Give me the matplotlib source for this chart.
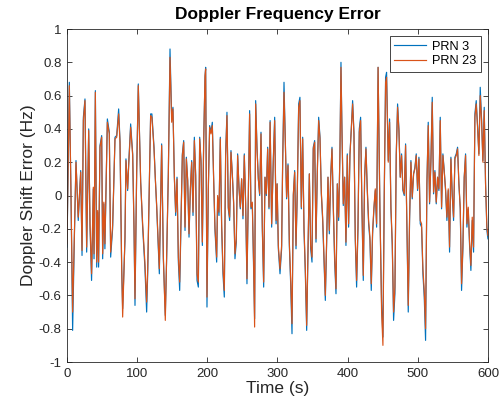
"""Doppler frequency error of two PRNs over a 600 s run."""

import matplotlib
matplotlib.use("Agg")
import matplotlib.pyplot as plt
from matplotlib.ticker import FuncFormatter, MultipleLocator

# --- data (time in s, error in Hz) ------------------------------------------
time_s = [
    0, 3.3, 5.5, 8, 10.5, 12.8, 16, 19.5, 21.4, 23.3,
    25.6, 28, 30.9, 32.8, 35, 37.5, 38.5, 40.4, 42.3, 43.7,
    45, 47, 49.4, 50.8, 52.5, 54, 57.5, 60.3, 62.2, 65,
    68.4, 70.8, 73.6, 75.5, 77.9, 79.3, 82.6, 84, 86.4, 87.9,
    90.7, 93.6, 95.5, 96.9, 99.3, 101.6, 103, 105, 107.8, 111,
    113.5, 115, 117.3, 119.2, 121, 124, 125.9, 127.8, 130, 131.6,
    134.9, 137.3, 140.1, 142, 144.4, 146.8, 149.2, 151, 153, 154.9,
    156.8, 158.7, 160.6, 162.5, 164.4, 166.3, 168.2, 170.1, 172, 173.9,
    175.8, 177.7, 179.6, 181.5, 183.4, 185.3, 187.2, 189.1, 191, 192.9,
    194.8, 196.7, 197.6, 199.5, 201.4, 203.3, 205.2, 207.1, 209, 210.9,
    213.3, 214.7, 216.6, 218.5, 220.4, 222.3, 224.2, 226.1, 228, 229.9,
    231.8, 233.7, 235.6, 237.5, 239.4, 241.3, 243.2, 245.1, 247, 248.9,
    250.8, 252.7, 254.6, 256.5, 258.4, 260.3, 262.2, 264.1, 266, 267.4,
    268.9, 270.8, 272.7, 274.6, 276.5, 278.4, 280.3, 282.2, 284.1, 286,
    287.9, 289.5, 291.7, 294, 296, 298, 299.5, 301.2, 303.6, 305.9,
    307.4, 309.3, 311.2, 313, 315, 316.9, 318.8, 320.7, 322.6, 324.5,
    326.4, 328.3, 330.2, 332, 334, 335.9, 337.8, 339.7, 341.6, 343.5,
    345.4, 347.3, 349.2, 351, 353, 354.9, 356.8, 358.7, 360.6, 362.5,
    364.4, 366.3, 368.2, 370, 372, 373.9, 375.8, 377.7, 379.6, 381.5,
    383.4, 385.3, 387.2, 389, 390.5, 391.9, 393.8, 395.7, 397.6, 399.5,
    401.4, 403.3, 405.2, 407.1, 409, 410.9, 412.8, 414.7, 416.6, 418.5,
    420.4, 422.3, 424.2, 426.1, 428, 429.9, 431.8, 433.7, 435.6, 437.5,
    439.4, 441.3, 443.4, 446, 448.4, 450.3, 452.2, 454.1, 455.5, 457.9,
    459.8, 461.7, 463.6, 465.5, 467.4, 469.3, 471.2, 473.1, 475, 476.9,
    478.8, 480.7, 482.6, 484.5, 486.4, 488.3, 490.2, 492.1, 494, 495.9,
    497.8, 499.7, 501.6, 503.5, 505.4, 507.3, 509.2, 511.1, 513, 514.9,
    516.8, 518.7, 520.6, 522.5, 524.4, 526.3, 528.2, 530.1, 532, 533.9,
    535.8, 537.7, 539.6, 541.5, 543.4, 545.3, 547.2, 549.1, 551, 552.9,
    554.8, 556.7, 558.6, 560.5, 562.4, 564.3, 566.2, 568.1, 570, 571.9,
    573.8, 575.7, 577.6, 579.5, 581.4, 583.3, 585.2, 587.1, 589, 590.9,
    592.8, 594.7, 596.6, 598.5, 600,
]

prn3 = [
    -0.31, 0.68, 0.05, -0.81, -0.25, 0.21, -0.15, 0.15, -0.36, 0.47,
    0.58, -0.34, 0.40, -0.19, -0.51, 0.04, -0.38, 0.63, -0.43, -0.10,
    -0.43, 0.30, 0.36, -0.38, -0.05, -0.32, 0.46, 0.38, -0.37, -0.20,
    0.35, 0.36, 0.52, 0.33, -0.44, -0.68, -0.27, 0.22, 0.03, 0.19,
    0.43, 0.25, -0.21, -0.66, 0.15, 0.67, 0.42, 0.08, -0.19, -0.43,
    -0.70, -0.47, 0.05, 0.49, 0.49, 0.29, 0.10, -0.07, -0.30, -0.47,
    0.31, -0.38, -0.72, -0.38, 0.13, 0.88, 0.46, 0.53, 0.11, -0.12,
    0.11, -0.40, -0.57, -0.15, 0.25, 0.33, -0.21, 0.23, 0.09, -0.25,
    0.03, 0.21, -0.12, 0.35, 0.12, -0.51, -0.55, 0.35, 0.21, -0.30,
    0.33, 0.71, 0.77, -0.67, 0.03, 0.42, 0.38, 0.44, 0.10, -0.21,
    -0.40, -0.01, -0.12, 0.35, -0.19, -0.47, -0.61, 0.25, 0.50, -0.08,
    -0.15, 0.27, 0.13, -0.05, -0.38, -0.28, 0.25, 0.05, -0.08, 0.10,
    -0.14, 0.25, -0.05, -0.53, 0.00, 0.51, -0.08, -0.05, -0.43, -0.74,
    0.57, 0.29, 0.10, 0.00, 0.38, -0.21, -0.55, 0.11, 0.00, 0.29,
    -0.08, 0.45, -0.19, 0.21, 0.47, -0.17, 0.07, -0.32, -0.47, -0.32,
    0.21, 0.68, 0.33, -0.02, 0.19, -0.30, -0.53, -0.83, 0.00, 0.15,
    -0.32, 0.03, 0.55, 0.59, -0.08, 0.35, -0.21, -0.47, -0.81, -0.34,
    0.13, -0.32, -0.40, 0.29, 0.33, -0.28, 0.15, 0.47, 0.35, 0.01,
    -0.15, -0.40, -0.63, -0.30, 0.11, -0.23, 0.11, 0.29, -0.08, -0.40,
    -0.59, 0.07, -0.15, 0.25, 0.80, 0.40, -0.06, 0.11, -0.30, 0.25,
    -0.19, 0.25, 0.40, 0.57, 0.38, -0.27, -0.55, -0.21, 0.40, 0.47,
    -0.08, -0.51, 0.11, 0.29, 0.03, -0.17, -0.27, -0.57, -0.23, -0.08,
    0.03, -0.19, 0.77, -0.08, -0.65, -0.85, 0.00, 0.71, 0.74, 0.21,
    0.46, -0.08, -0.30, -0.75, -0.59, 0.25, 0.55, 0.40, 0.11, 0.25,
    0.03, 0.00, 0.31, -0.19, -0.70, -0.15, 0.21, -0.02, 0.13, 0.17,
    0.25, 0.03, 0.23, -0.17, -0.19, -0.47, -0.61, -0.87, 0.07, 0.44,
    -0.05, 0.21, 0.59, 0.01, 0.15, -0.05, 0.11, 0.03, 0.47, -0.08,
    0.25, 0.15, 0.03, -0.15, 0.03, -0.34, 0.23, 0.00, -0.15, 0.23,
    0.25, 0.29, 0.07, -0.08, -0.57, -0.32, 0.11, 0.25, -0.19, -0.08,
    -0.30, -0.45, -0.15, -0.34, 0.49, 0.57, 0.42, 0.25, 0.65, 0.46,
    0.21, 0.53, 0.07, -0.21, -0.26,
]

prn23 = [
    -0.29, 0.66, 0.06, -0.70, -0.22, 0.20, -0.13, 0.14, -0.33, 0.45,
    0.57, -0.31, 0.39, -0.17, -0.47, 0.05, -0.35, 0.62, -0.40, -0.09,
    -0.40, 0.29, 0.35, -0.35, -0.04, -0.29, 0.44, 0.37, -0.34, -0.18,
    0.34, 0.35, 0.49, 0.32, -0.42, -0.73, -0.25, 0.21, 0.04, 0.18,
    0.41, 0.24, -0.19, -0.62, 0.14, 0.66, 0.41, 0.08, -0.17, -0.40,
    -0.64, -0.44, 0.06, 0.48, 0.47, 0.28, 0.10, -0.06, -0.28, -0.44,
    0.30, -0.36, -0.75, -0.36, 0.12, 0.83, 0.44, 0.52, 0.11, -0.10,
    0.10, -0.37, -0.52, -0.13, 0.24, 0.32, -0.19, 0.22, 0.09, -0.23,
    0.04, 0.20, -0.10, 0.33, 0.12, -0.47, -0.52, 0.34, 0.20, -0.28,
    0.32, 0.72, 0.76, -0.61, 0.04, 0.41, 0.37, 0.42, 0.10, -0.19,
    -0.37, 0.00, -0.10, 0.34, -0.17, -0.44, -0.57, 0.24, 0.48, -0.07,
    -0.13, 0.26, 0.13, -0.04, -0.35, -0.26, 0.24, 0.05, -0.07, 0.10,
    -0.12, 0.24, -0.04, -0.50, 0.01, 0.49, -0.07, -0.04, -0.41, -0.79,
    0.55, 0.28, 0.10, 0.01, 0.37, -0.19, -0.52, 0.11, 0.01, 0.28,
    -0.07, 0.44, -0.17, 0.20, 0.45, -0.15, 0.07, -0.30, -0.44, -0.30,
    0.20, 0.62, 0.32, -0.01, 0.18, -0.28, -0.50, -0.77, 0.01, 0.14,
    -0.30, 0.04, 0.53, 0.57, -0.07, 0.34, -0.19, -0.44, -0.78, -0.32,
    0.13, -0.30, -0.37, 0.28, 0.32, -0.26, 0.14, 0.45, 0.34, 0.02,
    -0.13, -0.37, -0.60, -0.28, 0.11, -0.21, 0.11, 0.28, -0.07, -0.37,
    -0.56, 0.07, -0.13, 0.24, 0.77, 0.39, -0.05, 0.11, -0.28, 0.24,
    -0.17, 0.24, 0.39, 0.55, 0.37, -0.25, -0.51, -0.19, 0.38, 0.45,
    -0.07, -0.48, 0.11, 0.28, 0.04, -0.15, -0.25, -0.53, -0.21, -0.07,
    0.04, -0.17, 0.77, -0.07, -0.70, -0.90, 0.01, 0.68, 0.71, 0.20,
    0.44, -0.07, -0.28, -0.70, -0.55, 0.24, 0.53, 0.39, 0.11, 0.24,
    0.04, 0.01, 0.30, -0.17, -0.66, -0.13, 0.20, -0.01, 0.13, 0.16,
    0.24, 0.04, 0.22, -0.15, -0.17, -0.44, -0.57, -0.80, 0.07, 0.42,
    -0.04, 0.20, 0.56, 0.02, 0.14, -0.04, 0.11, 0.04, 0.45, -0.07,
    0.24, 0.14, 0.04, -0.13, 0.04, -0.31, 0.22, 0.01, -0.13, 0.22,
    0.24, 0.28, 0.07, -0.07, -0.53, -0.30, 0.11, 0.24, -0.17, -0.07,
    -0.28, -0.42, -0.13, -0.31, 0.47, 0.55, 0.41, 0.24, 0.60, 0.45,
    0.20, 0.51, 0.07, -0.19, -0.24,
]

series_names = ["PRN 3", "PRN 23"]
x_ticks = [0, 100, 200, 300, 400, 500, 600]

# MATLAB default line colours
blue = "#0072BD"
orange = "#D95319"
axis_grey = "#262626"

plt.rcParams["font.family"] = ["Liberation Sans", "DejaVu Sans"]
plt.rcParams["axes.unicode_minus"] = False

fig = plt.figure(figsize=(5.02, 4.03), dpi=100)
ax = fig.add_axes([0.1335, 0.1017, 0.8385, 0.8263])

ax.plot(time_s, prn3, color=blue, lw=0.85, label=series_names[0])
ax.plot(time_s, prn23, color=orange, lw=0.85, label=series_names[1])

ax.set_xlim(0, 600)
ax.set_ylim(-1, 1)
ax.set_xticks(x_ticks)
ax.yaxis.set_major_locator(MultipleLocator(0.2))
ax.yaxis.set_major_formatter(FuncFormatter(lambda v, _: f"{round(v, 1):g}"))

ax.tick_params(direction="in", length=3.5, width=0.6, top=True, right=True,
               labelsize=9.5, colors=axis_grey, pad=4)
for spine in ax.spines.values():
    spine.set_color(axis_grey)
    spine.set_linewidth(0.6)

ax.set_xlabel("Time (s)", fontsize=12.5, color=axis_grey, labelpad=1)
ax.set_ylabel("Doppler Shift Error (Hz)", fontsize=12.5, color=axis_grey, labelpad=2)
ax.set_title("Doppler Frequency Error", fontsize=12.5, fontweight="bold", pad=7)

leg = ax.legend(loc="upper right", fontsize=9.2, fancybox=False, framealpha=1,
                edgecolor=axis_grey, handlelength=2.5, borderaxespad=0.55,
                borderpad=0.35, labelspacing=0.2, handletextpad=0.45)
leg.get_frame().set_linewidth(0.6)

fig.savefig("out.png", dpi=100)
